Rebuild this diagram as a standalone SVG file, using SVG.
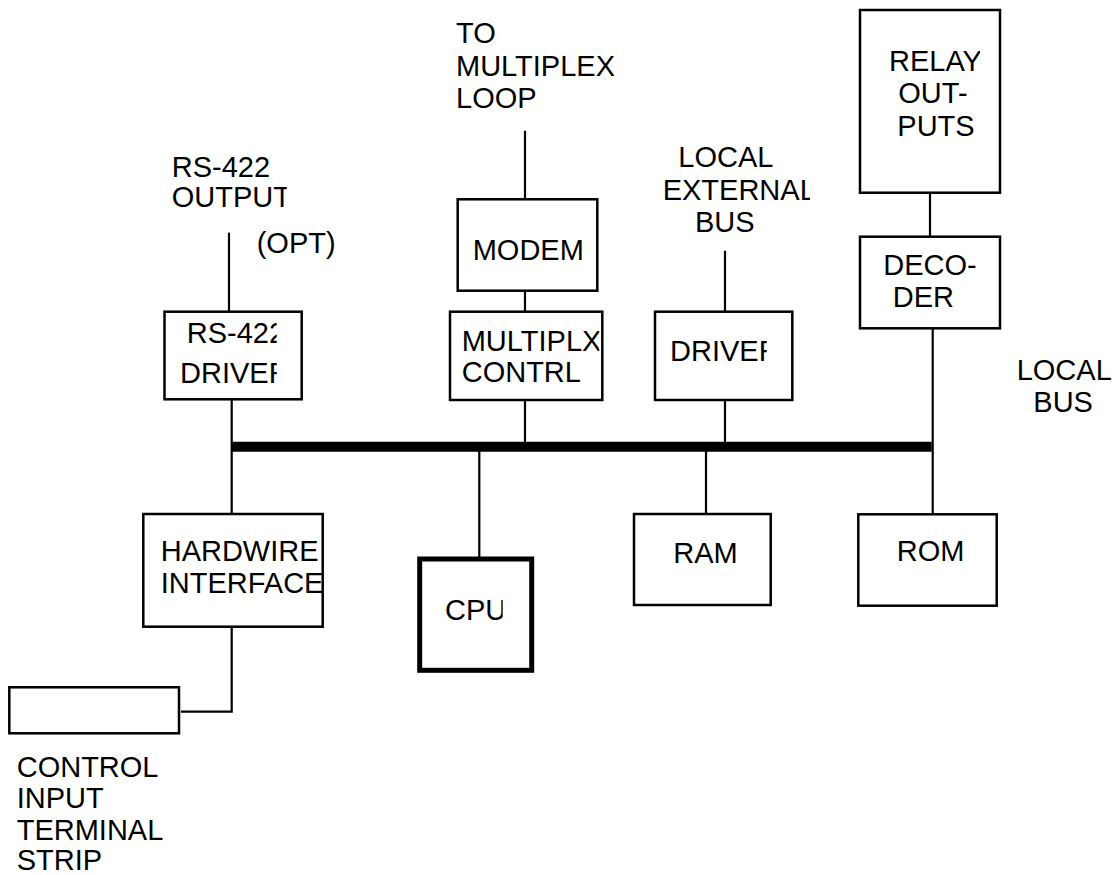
<svg xmlns="http://www.w3.org/2000/svg" width="1117" height="875" viewBox="0 0 1117 875">
<style>
  text { font-family: "Liberation Sans", Arial, sans-serif; font-size: 29px; fill: #000; }
  .box { fill: #fff; stroke: #000; stroke-width: 2.5; }
  .thick { fill: #fff; stroke: #000; stroke-width: 5; }
  .wire { fill: none; stroke: #000; stroke-width: 2.2; }
  .bus { fill: none; stroke: #000; stroke-width: 10; }
</style>
<defs>
  <clipPath id="c-rs-out"><rect x="0" y="0" width="286.7" height="875"/></clipPath>
  <clipPath id="c-rs"><rect x="0" y="0" width="276.7" height="875"/></clipPath>
  <clipPath id="c-mux"><rect x="0" y="0" width="599.3" height="875"/></clipPath>
  <clipPath id="c-to"><rect x="0" y="0" width="614" height="875"/></clipPath>
  <clipPath id="c-drv"><rect x="0" y="0" width="766.7" height="875"/></clipPath>
  <clipPath id="c-ext"><rect x="0" y="0" width="810" height="875"/></clipPath>
  <clipPath id="c-relay"><rect x="0" y="0" width="980" height="875"/></clipPath>
  <clipPath id="c-hw1"><rect x="0" y="0" width="320" height="875"/></clipPath>
  <clipPath id="c-hw2"><rect x="0" y="0" width="326" height="875"/></clipPath>
  <clipPath id="c-cpu"><rect x="0" y="0" width="502.7" height="875"/></clipPath>
</defs>

<g id="connectors">
  <line class="bus" x1="231.7" y1="446.7" x2="931.7" y2="446.7"/>
  <line class="wire" x1="229" y1="232.7" x2="229" y2="311.7"/>
  <line class="wire" x1="231.7" y1="399" x2="231.7" y2="514"/>
  <line class="wire" x1="525" y1="130.7" x2="525" y2="199.3"/>
  <line class="wire" x1="525" y1="290.7" x2="525" y2="311.7"/>
  <line class="wire" x1="525" y1="400" x2="525" y2="442"/>
  <line class="wire" x1="725" y1="250.7" x2="725" y2="311.7"/>
  <line class="wire" x1="725" y1="400" x2="725" y2="442"/>
  <line class="wire" x1="930" y1="192.7" x2="930" y2="236.7"/>
  <line class="wire" x1="932.7" y1="328.3" x2="932.7" y2="514.3"/>
  <line class="wire" x1="479.3" y1="451" x2="479.3" y2="557"/>
  <line class="wire" x1="706" y1="451" x2="706" y2="514"/>
  <path class="wire" d="M181,711.7 H231.7 V626.7"/>
</g>

<g id="rs422-output-label">
  <text x="171.7" y="176.7">RS-422</text>
  <text x="171.7" y="206.7" clip-path="url(#c-rs-out)">OUTPUT</text>
  <text x="256.7" y="253.3">(OPT)</text>
</g>

<g id="rs422-driver">
  <rect class="box" x="164.5" y="311.7" width="137.2" height="87.6"/>
  <text x="186.7" y="343.3" clip-path="url(#c-rs)">RS-422</text>
  <text x="180" y="383.3" clip-path="url(#c-rs)">DRIVER</text>
</g>

<g id="multiplex-loop-label">
  <text x="456" y="43.3">TO</text>
  <text x="456" y="76" clip-path="url(#c-to)">MULTIPLEX</text>
  <text x="456" y="108.3">LOOP</text>
</g>

<g id="modem">
  <rect class="box" x="457.7" y="199.3" width="139.6" height="91.4"/>
  <text x="472.7" y="260">MODEM</text>
</g>

<g id="multiplex-control">
  <rect class="box" x="450" y="311.7" width="152.3" height="88.3"/>
  <text x="461.7" y="350.7" clip-path="url(#c-mux)">MULTIPLX</text>
  <text x="461.7" y="382.3">CONTRL</text>
</g>

<g id="local-external-bus-label">
  <text x="678.3" y="166.7">LOCAL</text>
  <text x="662.7" y="200" clip-path="url(#c-ext)">EXTERNAL</text>
  <text x="695" y="231.7">BUS</text>
</g>

<g id="driver">
  <rect class="box" x="655" y="311.7" width="137.3" height="88.3"/>
  <text x="670" y="360.7" clip-path="url(#c-drv)">DRIVER</text>
</g>

<g id="relay-outputs">
  <rect class="box" x="860" y="10" width="140" height="182.7"/>
  <text x="889" y="71" clip-path="url(#c-relay)">RELAY</text>
  <text x="898.3" y="103.3">OUT-</text>
  <text x="897.3" y="136">PUTS</text>
</g>

<g id="decoder">
  <rect class="box" x="860" y="236.7" width="140" height="91.6"/>
  <text x="883.3" y="275">DECO-</text>
  <text x="892.7" y="306.7">DER</text>
</g>

<g id="local-bus-label">
  <text x="1016.7" y="380">LOCAL</text>
  <text x="1033.3" y="411.7">BUS</text>
</g>

<g id="hardwire-interface">
  <rect class="box" x="143.3" y="514" width="179.4" height="112.7"/>
  <text x="160.7" y="560.7" clip-path="url(#c-hw1)">HARDWIRE</text>
  <text x="160.7" y="593.3" clip-path="url(#c-hw2)">INTERFACE</text>
</g>

<g id="cpu">
  <rect class="thick" x="419.7" y="559" width="112" height="111.3"/>
  <text x="445" y="620" clip-path="url(#c-cpu)">CPU</text>
</g>

<g id="ram">
  <rect class="box" x="634" y="514" width="136.7" height="91"/>
  <text x="673.3" y="563.3">RAM</text>
</g>

<g id="rom">
  <rect class="box" x="858.3" y="514.3" width="138.4" height="91.4"/>
  <text x="896.7" y="561">ROM</text>
</g>

<g id="control-input-terminal-strip">
  <rect class="box" x="9.3" y="687.3" width="169.7" height="46"/>
  <text x="16.7" y="777.3">CONTROL</text>
  <text x="16.7" y="808.3">INPUT</text>
  <text x="16.7" y="840">TERMINAL</text>
  <text x="16.7" y="870">STRIP</text>
</g>
</svg>
